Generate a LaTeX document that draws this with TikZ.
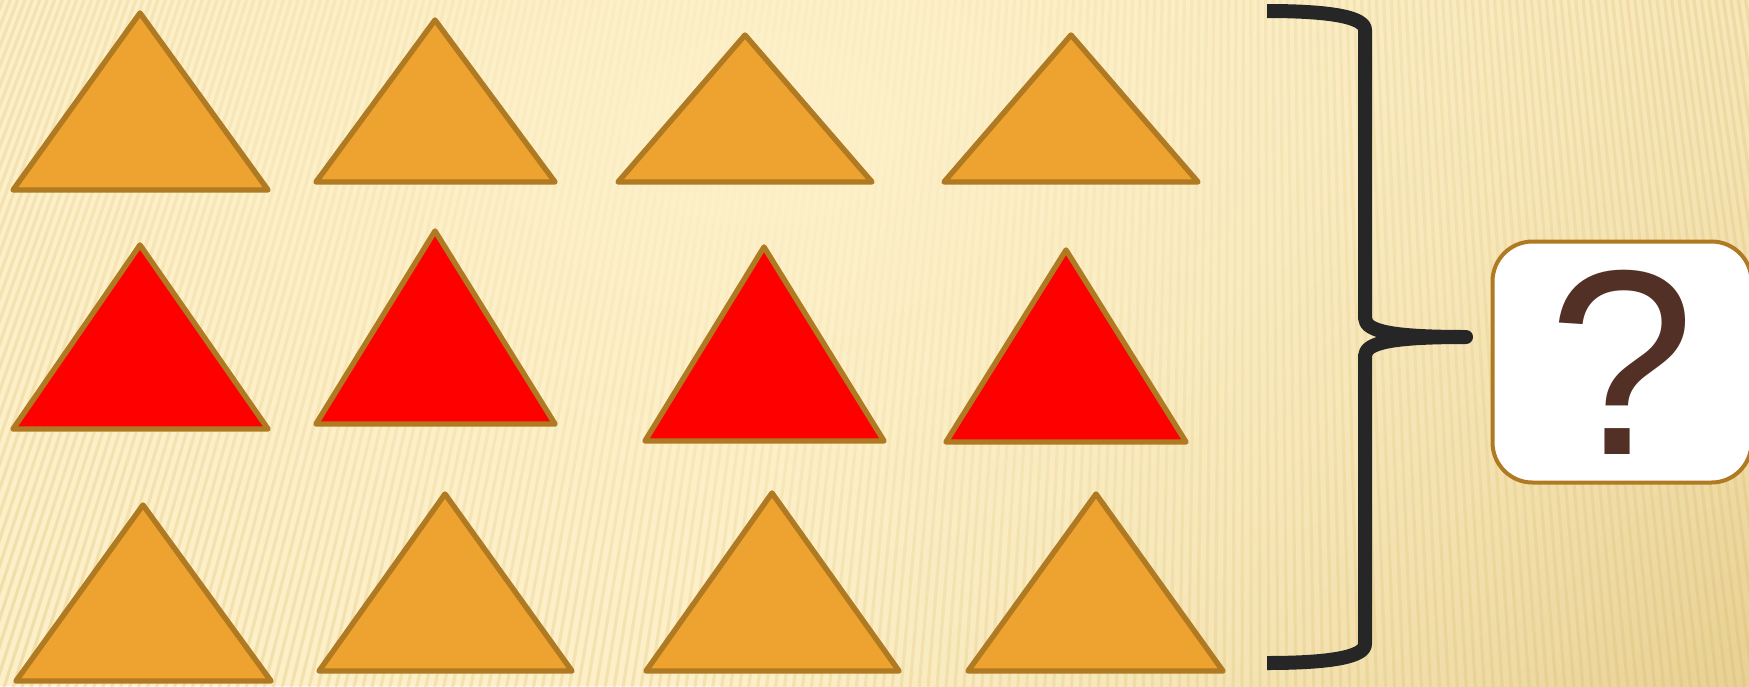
\documentclass[tikz,border=0pt]{standalone}
\usepackage{fontspec}
\setmainfont{Liberation Sans}
\usetikzlibrary{fadings}
\definecolor{bgcream}{HTML}{FDF0C8}
\definecolor{bgtan}{HTML}{E6CE8E}
\definecolor{stripeink}{HTML}{E0C27A}
\definecolor{triorange}{HTML}{EEA22F}
\definecolor{trired}{HTML}{FF0000}
\definecolor{triedge}{HTML}{B07A22}
\definecolor{braceink}{HTML}{262626}
\definecolor{qbrown}{HTML}{533026}
\tikzfading[name=fuzzyspot, inner color=transparent!0, outer color=transparent!100]

\begin{document}
\begin{tikzpicture}[x=0.5pt,y=-0.5pt,
  tri/.style={draw=triedge, line width=2.7pt, line join=round},
  stripe/.style={draw=stripeink, line width=1.6pt, opacity=0.45},
  brace/.style={draw=braceink, line width=7pt, line join=round},
  qbox/.style={draw=triedge, fill=white, line width=2pt, rounded corners=20pt, minimum width=129.5pt, minimum height=120.5pt, inner sep=0pt, text=qbrown, font=\fontsize{132}{132}\selectfont}]
\useasboundingbox (0,0) rectangle (1749,686);
% background
\begin{scope}
\clip (0,0) rectangle (1749,686);
\fill[bgcream] (0,0) rectangle (1749,686);
\shade[inner color=bgtan, outer color=bgcream] (1820,760) circle (1100);
\foreach \i in {-60,...,220}
  \draw[stripe] (1250,-3200) -- (\i*9,700);
\fill[bgcream, path fading=fuzzyspot] (760,130) ellipse (1250 and 850);
\end{scope}
% triangles
\foreach \l/\r/\ax/\ay/\b/\c in {
  13/268/140/13/190/triorange, 316/555/435/20/182/triorange, 618/872/745/35/182/triorange, 944/1198/1071/35/182/triorange,
  13/268/140/245/429/trired, 316/555/435/231/424/trired, 645/884/764/247/441/trired, 946/1186/1066/250/442/trired,
  16/271/143/505/681/triorange, 319/572/445/494/671/triorange, 646/899/772/493/671/triorange, 968/1223/1096/494/671/triorange}
  \filldraw[tri, fill=\c] (\l,\b) -- (\r,\b) -- (\ax,\ay) -- cycle;
% brace
\coordinate (bracetop) at (1267,11);
\coordinate (bracetip) at (1466,337);
\coordinate (bracebot) at (1267,663);
\draw[brace] (bracetop) .. controls (1330,11) and (1365,17) .. (1365,30) -- (1365,318)
  .. controls (1365,332) and (1395,337) .. (bracetip)
  .. controls (1395,337) and (1365,342) .. (1365,356) -- (1365,644)
  .. controls (1365,657) and (1330,663) .. (bracebot);
% answer box
\node[qbox] (answer) at (1622,362) {?};
\end{tikzpicture}
\end{document}
